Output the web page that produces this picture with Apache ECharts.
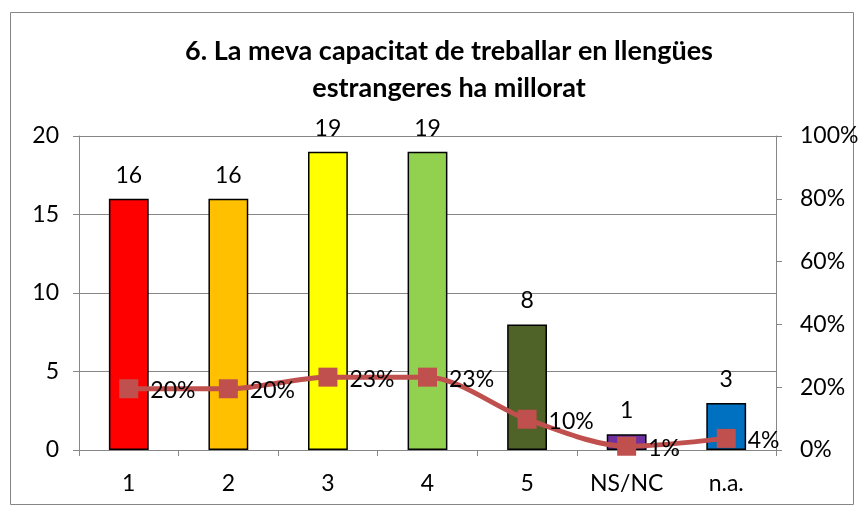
<!DOCTYPE html>
<html>
<head>
<meta charset="utf-8">
<script src="https://cdn.jsdelivr.net/npm/echarts@6/dist/echarts.min.js"></script>
<style>
    html, body { margin: 0; padding: 0; background: #fff; }
    #chart { width: 864px; height: 512px; }
</style>
</head>
<body>
<div id="chart"></div>
<script>
// dades
var categories = ['1', '2', '3', '4', '5', 'NS/NC', 'n.a.'];
var counts = [16, 16, 19, 19, 8, 1, 3];
var percents = [19.5, 19.5, 23.2, 23.2, 9.8, 1.2, 3.7];
var barColors = ['#FF0000', '#FFC000', '#FFFF00', '#92D050', '#4F6228', '#7030A0', '#0070C0'];

var FONT = 'Lato';
var myChart = echarts.init(document.getElementById('chart'));

var option = {
    animation: false,
    textStyle: { fontFamily: FONT },
    title: {
        text: '6. La meva capacitat de treballar en llengües\nestrangeres ha millorat',
        left: 444,
        textAlign: 'center',
        top: 28,
        textStyle: { fontFamily: FONT, fontWeight: 'bold', fontSize: 27, lineHeight: 37, color: '#000' }
    },
    graphic: [{
        type: 'rect',
        shape: { x: 10.5, y: 12.5, width: 843, height: 492 },
        style: { fill: 'none', stroke: '#868686', lineWidth: 1 },
        silent: true
    }],
    grid: { left: 79, right: 88, top: 136, bottom: 62 },
    xAxis: {
        type: 'category',
        data: categories,
        axisLine: { lineStyle: { color: '#868686' } },
        axisTick: { show: true, length: 6, lineStyle: { color: '#868686' } },
        axisLabel: { color: '#000', fontSize: 23, margin: 22, fontFamily: FONT }
    },
    yAxis: [{
        type: 'value',
        min: 0, max: 20, interval: 5,
        axisLine: { show: true, lineStyle: { color: '#868686' } },
        axisTick: { show: true, length: 6, lineStyle: { color: '#868686' } },
        splitLine: { lineStyle: { color: '#868686' } },
        axisLabel: { color: '#000', fontSize: 23, margin: 20, fontFamily: FONT }
    }, {
        type: 'value',
        min: 0, max: 100, interval: 20,
        axisLine: { show: true, lineStyle: { color: '#868686' } },
        axisTick: { show: true, length: 6, lineStyle: { color: '#868686' } },
        splitLine: { show: false },
        axisLabel: { color: '#000', fontSize: 23, margin: 24, fontFamily: FONT, formatter: '{value}%' }
    }],
    series: [{
        type: 'bar',
        data: counts.map(function (v, i) {
            return { value: v, itemStyle: { color: barColors[i] } };
        }),
        barWidth: '40%',
        itemStyle: { borderColor: '#000', borderWidth: 1.5 },
        label: { show: true, position: 'top', distance: 12, color: '#000', fontSize: 23, fontFamily: FONT }
    }, {
        type: 'line',
        yAxisIndex: 1,
        data: percents,
        smooth: 0.3,
        symbol: 'rect',
        symbolSize: 19,
        z: 5,
        lineStyle: { color: '#C0504D', width: 5 },
        itemStyle: { color: '#C0504D' },
        label: {
            show: true, position: 'right', distance: 12, color: '#000', fontSize: 23, fontFamily: FONT,
            formatter: function (p) { return Math.round(p.value) + '%'; },
            offset: [0, 2]
        }
    }]
};

myChart.setOption(option);
</script>
</body>
</html>
